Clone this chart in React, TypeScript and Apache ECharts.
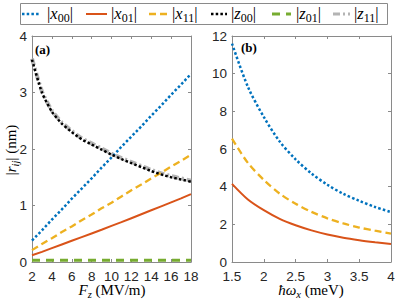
import React, { useEffect, useRef } from "react";
import * as echarts from "echarts";

// Panel (a): field F_z (MV/m)
const fieldF = [2, 3, 4, 5, 6, 7, 8, 9, 10, 11, 12, 13, 14, 15, 16, 17, 18];
const fX00 = [0.38, 0.56, 0.75, 0.93, 1.12, 1.3, 1.48, 1.67, 1.85, 2.04, 2.22, 2.4, 2.59, 2.77, 2.96, 3.14, 3.33];
const fX01 = [0.12, 0.18, 0.245, 0.31, 0.375, 0.44, 0.505, 0.57, 0.64, 0.705, 0.775, 0.845, 0.915, 0.985, 1.055, 1.125, 1.2];
const fX11 = [0.21, 0.32, 0.42, 0.53, 0.63, 0.74, 0.84, 0.95, 1.05, 1.16, 1.27, 1.37, 1.48, 1.58, 1.69, 1.79, 1.9];
const fZ00 = [3.58, 3.0, 2.66, 2.45, 2.3, 2.17, 2.08, 1.99, 1.9, 1.82, 1.75, 1.68, 1.61, 1.55, 1.5, 1.46, 1.42];
const fZ01 = [0.03, 0.03, 0.03, 0.03, 0.03, 0.03, 0.03, 0.03, 0.03, 0.03, 0.03, 0.03, 0.03, 0.03, 0.03, 0.03, 0.03];
const fZ11 = [3.6, 3.02, 2.68, 2.47, 2.32, 2.19, 2.1, 2.01, 1.92, 1.84, 1.77, 1.7, 1.63, 1.57, 1.52, 1.48, 1.44];

// Panel (b): confinement energy ħω_x (meV)
const omegaX = [1.5, 1.75, 2, 2.25, 2.5, 2.75, 3, 3.25, 3.5, 3.75, 4];
const oX00 = [11.6, 9.3, 7.7, 6.4, 5.45, 4.7, 4.1, 3.62, 3.25, 2.92, 2.65];
const oX01 = [4.15, 3.32, 2.75, 2.29, 1.95, 1.68, 1.46, 1.29, 1.16, 1.05, 0.95];
const oX11 = [6.55, 5.26, 4.36, 3.63, 3.09, 2.66, 2.32, 2.05, 1.83, 1.66, 1.51];

const seriesNames = ["x00", "x01", "x11", "z00", "z01", "z11"];
const legendLabels = [
  "|{li|x}{ls|00}|",
  "|{li|x}{ls|01}|",
  "|{li|x}{ls|11}|",
  "|{li|z}{ls|00}|",
  "|{li|z}{ls|01}|",
  "|{li|z}{ls|11}|",
];

const SERIF = "'Liberation Serif', serif";
const SANS = "'Liberation Sans', Arial, sans-serif";

const styles: Record<string, any> = {
  x00: { color: "#0072BD", type: [2.5, 2.2], width: 2.5, z: 3 },
  x01: { color: "#D95319", type: "solid", width: 2, z: 3 },
  x11: { color: "#EDB120", type: [7, 4], width: 2.3, z: 3 },
  z00: { color: "#000000", type: [2.5, 2.2], width: 2.5, z: 4 },
  z01: { color: "#77AC30", type: [8, 6], width: 3, z: 3 },
  z11: { color: "#b4b4b4", type: [7, 3, 2, 3], width: 4, z: 2 },
};

const richStyles = {
  i: { fontFamily: SERIF, fontStyle: "italic", fontSize: 15, color: "#000" },
  s: { fontFamily: SERIF, fontSize: 10.5, color: "#000", padding: [8, 0, 0, 0] },
  si: { fontFamily: SERIF, fontStyle: "italic", fontSize: 10.5, color: "#000", padding: [8, 0, 0, 0] },
  li: { fontFamily: SERIF, fontStyle: "italic", fontSize: 16.5, color: "#000" },
  ls: { fontFamily: SERIF, fontSize: 12, color: "#000", padding: [9, 0, 0, 0] },
};

function mk(name: string, xs: number[], ys: number[], gi: number, smooth: number | boolean) {
  const st = styles[name];
  return {
    name,
    type: "line",
    xAxisIndex: gi,
    yAxisIndex: gi,
    data: xs.map((x, i) => [x, ys[i]]),
    symbol: "none",
    smooth,
    z: st.z,
    lineStyle: { color: st.color, type: st.type, width: st.width, cap: "butt" },
    itemStyle: { color: st.color },
  };
}

const axisLineStyle = { color: "#8a8a8a", width: 1 };
const labelStyle = { color: "#262626", fontFamily: SANS, fontSize: 13.5 };

function ax(gi: number, min: number, max: number, interval: number, pos: string, showLabel: boolean, margin: number) {
  return {
    type: "value",
    gridIndex: gi,
    min,
    max,
    interval,
    position: pos,
    axisLine: { show: true, onZero: false, lineStyle: axisLineStyle },
    axisTick: { show: true, inside: true, length: 3, lineStyle: axisLineStyle },
    splitLine: { show: false },
    axisLabel: { show: showLabel, margin, ...labelStyle },
  };
}

function txt(x: number, y: number, text: string, rotation = 0, align = "center", fontSize = 15) {
  return {
    type: "text",
    x,
    y,
    rotation,
    z: 10,
    style: {
      text,
      align,
      verticalAlign: "middle",
      fontFamily: SERIF,
      fontSize,
      fill: "#000",
      rich: richStyles,
    },
  };
}

// legend layout (pixel positions of the sample lines and labels)
const legendSampleX = [[22, 39], [86, 107], [149, 167], [211, 227], [272, 291], [333, 350]];
const legendTextX = [47, 111, 172, 231, 296, 354];

export default function App() {
  const ref = useRef<HTMLDivElement>(null);
  useEffect(() => {
    if (!ref.current) return;
    const chart = echarts.init(ref.current, null, { renderer: "svg" });
    const legendGraphics: any[] = [
      {
        type: "rect",
        z: 9,
        shape: { x: 20.5, y: 3.5, width: 367, height: 21 },
        style: { fill: "#fff", stroke: "#8a8a8a", lineWidth: 1 },
      },
    ];
    seriesNames.forEach((n, k) => {
      const st = styles[n];
      legendGraphics.push({
        type: "line",
        z: 10,
        shape: { x1: legendSampleX[k][0], y1: 14, x2: legendSampleX[k][1], y2: 14 },
        style: {
          stroke: st.color,
          lineWidth: Math.min(st.width, 3),
          lineDash: st.type === "solid" ? null : st.type,
          lineCap: "butt",
        },
      });
      legendGraphics.push(txt(legendTextX[k], 13, legendLabels[k], 0, "left", 16.5));
    });

    chart.setOption({
      animation: false,
      backgroundColor: "#ffffff",
      grid: [
        { left: 32, top: 36, width: 159, height: 226 },
        { left: 232, top: 36, width: 159, height: 226 },
      ],
      xAxis: [
        ax(0, 2, 18, 2, "bottom", true, 7),
        ax(1, 1.5, 4, 0.5, "bottom", true, 7),
        ax(0, 2, 18, 2, "top", false, 5),
        ax(1, 1.5, 4, 0.5, "top", false, 5),
      ],
      yAxis: [
        ax(0, 0, 4, 1, "left", true, 5),
        ax(1, 0, 12, 2, "left", true, 5),
        ax(0, 0, 4, 1, "right", false, 5),
        ax(1, 0, 12, 2, "right", false, 5),
      ],
      series: [
        mk("x00", fieldF, fX00, 0, false),
        mk("x01", fieldF, fX01, 0, false),
        mk("x11", fieldF, fX11, 0, false),
        mk("z00", fieldF, fZ00, 0, 0.2),
        mk("z01", fieldF, fZ01, 0, false),
        mk("z11", fieldF, fZ11, 0, 0.2),
        mk("x00", omegaX, oX00, 1, 0.3),
        mk("x01", omegaX, oX01, 1, 0.3),
        mk("x11", omegaX, oX11, 1, 0.3),
      ],
      graphic: [
        ...legendGraphics,
        txt(112, 290, "{i|F}{si|z} (MV/m)"),
        txt(311, 290, "{i|ħω}{si|x} (meV)"),
        txt(11, 150, "|{i|r}{si|ij}| (nm)", Math.PI / 2),
        {
          type: "text",
          x: 35,
          y: 43,
          z: 10,
          style: { text: "(a)", fontFamily: SERIF, fontSize: 13, fontWeight: "bold", fill: "#000" },
        },
        {
          type: "text",
          x: 241,
          y: 41,
          z: 10,
          style: { text: "(b)", fontFamily: SERIF, fontSize: 13, fontWeight: "bold", fill: "#000" },
        },
      ],
    });
    return () => chart.dispose();
  }, []);
  return (
    <div
      ref={ref}
      style={{ position: "fixed", left: 0, top: 0, width: 399, height: 299, background: "#fff" }}
    />
  );
}
